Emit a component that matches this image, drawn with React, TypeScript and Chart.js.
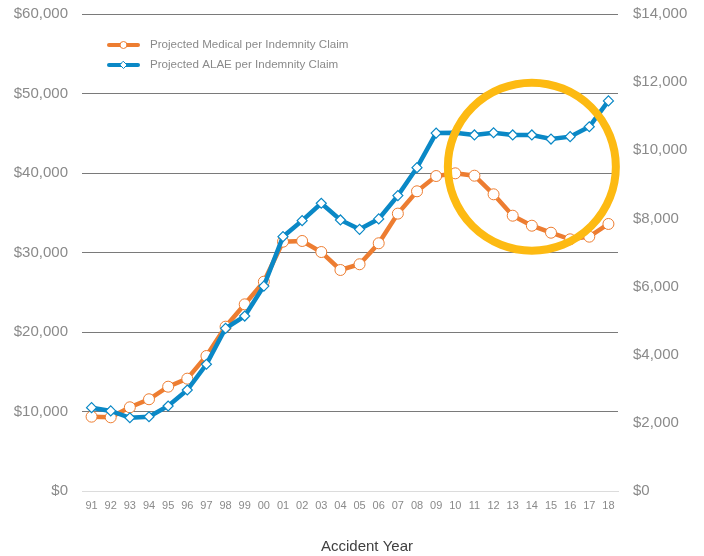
import React, { useEffect, useRef } from "react";
import { Chart, registerables } from "chart.js";

Chart.register(...registerables);

const years = ["91","92","93","94","95","96","97","98","99","00","01","02","03","04","05","06","07","08","09","10","11","12","13","14","15","16","17","18"];
const medical = [9350,9270,10530,11540,13120,14130,16980,20670,23480,26330,31360,31450,30060,27800,28520,31160,34890,37700,39620,39960,39660,37320,34630,33370,32490,31660,31990,33590];
const alae = [2445,2350,2150,2180,2495,2965,3720,4775,5135,6015,7465,7935,8445,7955,7680,7985,8670,9490,10505,10515,10450,10515,10450,10450,10330,10400,10690,11450];
const leftTicks = [0,10000,20000,30000,40000,50000,60000];
const rightTicks = [0,2000,4000,6000,8000,10000,12000,14000];
const highlightYear = "14";
const highlightValue = 40800;

const ORANGE = "#ED7D31";
const BLUE = "#0A88C6";
const FONT = "'Liberation Sans', Arial, sans-serif";

const fmt = (v: number) => "$" + Math.round(v).toLocaleString("en-US");

const extrasPlugin = {
  id: "extras",
  afterDatasetsDraw(chart: any) {
    const { ctx, scales } = chart;
    const x = scales.x.getPixelForValue(years.indexOf(highlightYear));
    const y = scales.y.getPixelForValue(highlightValue);
    ctx.save();
    ctx.beginPath();
    ctx.arc(x, y, 84, 0, Math.PI * 2);
    ctx.strokeStyle = "#FDBA12";
    ctx.lineWidth = 8;
    ctx.stroke();
    ctx.restore();
  },
  afterDraw(chart: any) {
    const { ctx } = chart;
    ctx.save();
    const items = [
      { label: chart.data.datasets[0].label, color: ORANGE, style: "circle", y: 45 },
      { label: chart.data.datasets[1].label, color: BLUE, style: "diamond", y: 65 },
    ];
    for (const it of items) {
      ctx.beginPath();
      ctx.moveTo(109, it.y);
      ctx.lineTo(138, it.y);
      ctx.strokeStyle = it.color;
      ctx.lineWidth = 4;
      ctx.lineCap = "round";
      ctx.stroke();
      ctx.beginPath();
      if (it.style === "circle") {
        ctx.arc(123.5, it.y, 3.5, 0, Math.PI * 2);
      } else {
        ctx.moveTo(123.5, it.y - 3.5);
        ctx.lineTo(127, it.y);
        ctx.lineTo(123.5, it.y + 3.5);
        ctx.lineTo(120, it.y);
        ctx.closePath();
      }
      ctx.fillStyle = "#fff";
      ctx.fill();
      ctx.lineWidth = 1;
      ctx.stroke();
      ctx.fillStyle = "#8a8a8a";
      ctx.font = "11.6px " + FONT;
      ctx.textBaseline = "middle";
      ctx.textAlign = "left";
      ctx.fillText(it.label, 150, it.y);
    }
    ctx.fillStyle = "#404040";
    ctx.font = "15px " + FONT;
    ctx.textAlign = "center";
    ctx.textBaseline = "middle";
    ctx.fillText("Accident Year", 367, 547);
    ctx.restore();
  },
};

export default function App() {
  const ref = useRef<HTMLCanvasElement | null>(null);
  useEffect(() => {
    if (!ref.current) return;
    const chart = new Chart(ref.current, {
      type: "line",
      data: {
        labels: years,
        datasets: [
          {
            label: "Projected Medical per Indemnity Claim",
            data: medical,
            yAxisID: "y",
            borderColor: ORANGE,
            backgroundColor: "#fff",
            borderWidth: 4.5,
            pointStyle: "circle",
            pointRadius: 5.5,
            pointBorderWidth: 1,
            pointBorderColor: ORANGE,
            pointBackgroundColor: "#fff",
            tension: 0,
            order: 2,
          },
          {
            label: "Projected ALAE per Indemnity Claim",
            data: alae,
            yAxisID: "y1",
            borderColor: BLUE,
            backgroundColor: "#fff",
            borderWidth: 4.5,
            pointStyle: "rectRot",
            pointRadius: 5,
            pointBorderWidth: 1.2,
            pointBorderColor: BLUE,
            pointBackgroundColor: "#fff",
            tension: 0,
            order: 1,
          },
        ],
      },
      options: {
        animation: false,
        responsive: true,
        maintainAspectRatio: false,
        layout: { padding: { top: 14, left: 0, right: 0, bottom: 0 } },
        plugins: { legend: { display: false }, tooltip: { enabled: false } },
        scales: {
          x: {
            offset: true,
            grid: { display: false, drawTicks: false },
            border: { display: true, color: "#dcdcdc", width: 1 },
            ticks: { color: "#8a8a8a", font: { family: FONT, size: 11 }, padding: 8, maxRotation: 0, autoSkip: false },
            afterFit(s: any) { s.height = 65; s.paddingLeft = 0; s.paddingRight = 0; },
          },
          y: {
            position: "left",
            min: 0,
            max: 60000,
            afterBuildTicks(s: any) { s.ticks = leftTicks.map((v) => ({ value: v })); },
            grid: {
              drawTicks: false,
              color: (c: any) => (c.tick && c.tick.value === 0 ? "#dcdcdc" : "#7a7a7a"),
              lineWidth: 1,
            },
            border: { display: false },
            ticks: { color: "#8a8a8a", font: { family: FONT, size: 15 }, padding: 14, callback: (v: any) => fmt(Number(v)) },
            afterFit(s: any) { s.width = 82; s.paddingTop = 0; s.paddingBottom = 0; },
          },
          y1: {
            position: "right",
            min: 0,
            max: 14000,
            afterBuildTicks(s: any) { s.ticks = rightTicks.map((v) => ({ value: v })); },
            grid: { display: false, drawTicks: false },
            border: { display: false },
            ticks: { color: "#8a8a8a", font: { family: FONT, size: 15 }, padding: 15, callback: (v: any) => fmt(Number(v)) },
            afterFit(s: any) { s.width = 86; s.paddingTop = 0; s.paddingBottom = 0; },
          },
        },
      },
      plugins: [extrasPlugin],
    });
    return () => chart.destroy();
  }, []);
  return (
    <div style={{ position: "absolute", left: 0, top: 0, width: 704, height: 556, background: "#fff" }}>
      <canvas ref={ref} />
    </div>
  );
}
